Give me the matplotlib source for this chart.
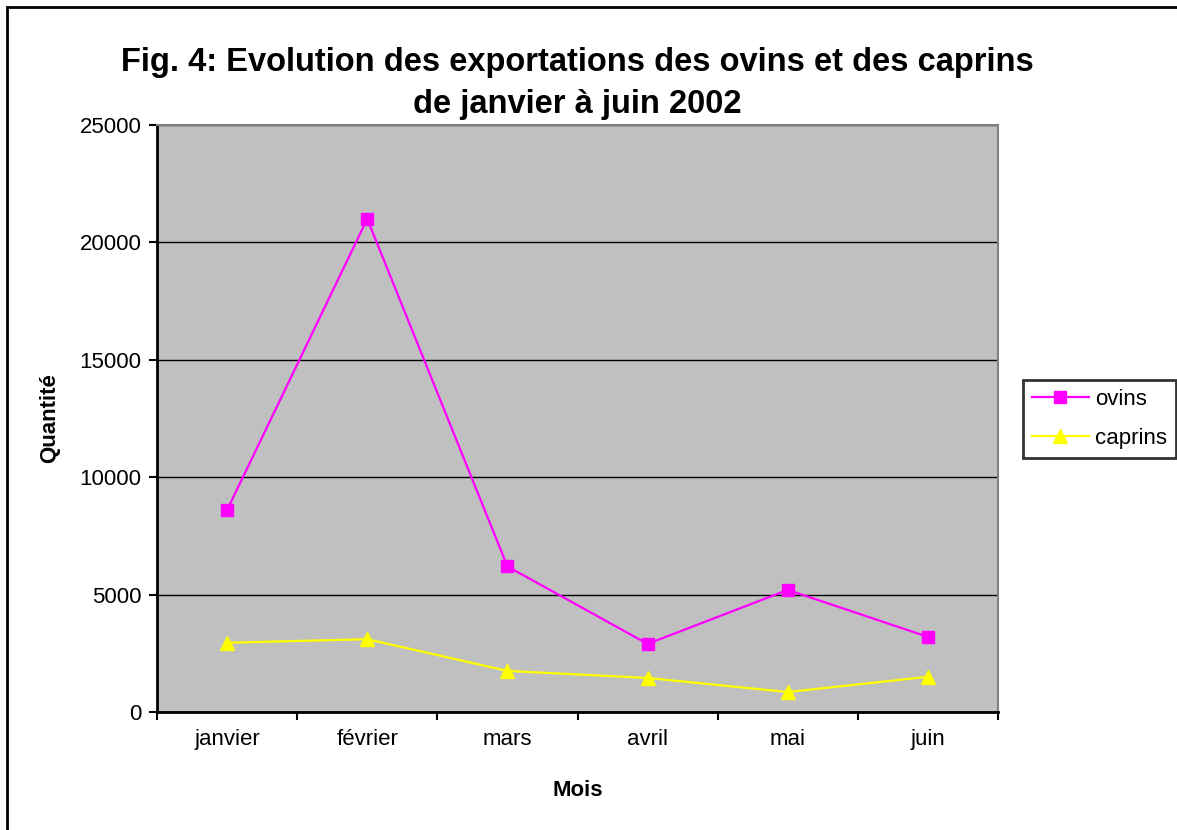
import matplotlib.pyplot as plt
from matplotlib.patches import Rectangle

plt.rcParams['font.family'] = ['Liberation Sans', 'DejaVu Sans']

mois = ['janvier', 'février', 'mars', 'avril', 'mai', 'juin']
ovins = [8600, 21000, 6200, 2900, 5200, 3200]
caprins = [2950, 3100, 1750, 1450, 850, 1500]

fig = plt.figure(figsize=(11.77, 8.30), dpi=100)
ax = fig.add_axes([157 / 1177, 1 - 712 / 830, (998 - 157) / 1177, (712 - 125) / 830])

# cadre autour du graphique (coupé à droite et en bas)
fig.patches.append(Rectangle((7 / 1177, -0.1), 1.2, 1 - 7 / 830 + 0.1, transform=fig.transFigure,
                             fill=False, edgecolor='black', linewidth=2))

x = list(range(len(mois)))
ax.set_facecolor('#C0C0C0')
ax.plot(x, ovins, color='#FF00FF', linewidth=1.6, marker='s', markersize=8.5,
        markerfacecolor='#FF00FF', markeredgecolor='#FF00FF', label='ovins', zorder=3)
ax.plot(x, caprins, color='#FFFF00', linewidth=1.6, marker='^', markersize=10,
        markerfacecolor='#FFFF00', markeredgecolor='#FFFF00', label='caprins', zorder=3)

ax.set_xlim(-0.5, 5.5)
ax.set_ylim(0, 25000)
ax.set_yticks(range(0, 25001, 5000))
ax.yaxis.grid(True, color='black', linewidth=1)
ax.set_axisbelow(True)

ax.set_xticks([i - 0.5 for i in range(len(mois) + 1)])
ax.set_xticklabels([])
ax.set_xticks(x, minor=True)
ax.set_xticklabels(mois, minor=True, fontsize=16)
ax.tick_params(axis='x', which='minor', length=0, pad=12)
ax.tick_params(axis='x', which='major', length=6, width=1.5, direction='out')
ax.tick_params(axis='y', length=6, width=1.5, direction='out', labelsize=16, pad=5)

for s in ['left', 'bottom']:
    ax.spines[s].set_linewidth(2)
    ax.spines[s].set_color('black')
for s in ['top', 'right']:
    ax.spines[s].set_linewidth(1.5)
    ax.spines[s].set_color('#808080')

ax.set_xlabel('Mois', fontsize=16, fontweight='bold', labelpad=22)
ax.set_ylabel('Quantité', fontsize=16, fontweight='bold', labelpad=14)
ax.set_title('Fig. 4: Evolution des exportations des ovins et des caprins\nde janvier à juin 2002',
             fontsize=23.5, fontweight='bold', pad=9, linespacing=1.45)

leg = ax.legend(loc='center left', bbox_to_anchor=(1023 / 1177, 1 - 419 / 830),
                bbox_transform=fig.transFigure, fontsize=16, frameon=True, fancybox=False,
                edgecolor='black', borderpad=0.4, handlelength=2.55, handletextpad=0.3,
                labelspacing=0.8, borderaxespad=0)
leg.get_frame().set_linewidth(2)

fig.savefig('out.png', dpi=100, facecolor='white')
